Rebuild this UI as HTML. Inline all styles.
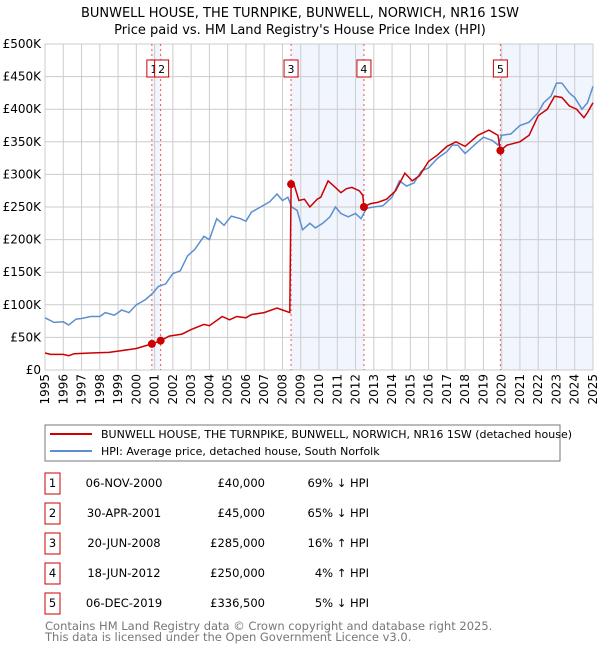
<!DOCTYPE html>
<html><head><meta charset="utf-8"><style>
body{margin:0;background:#fff;font-family:"DejaVu Sans","Liberation Sans",sans-serif;}
svg{display:block}
</style></head><body>
<svg id="c" width="600" height="650" xmlns="http://www.w3.org/2000/svg" font-family="DejaVu Sans, Liberation Sans, sans-serif">
<text x="300" y="17" text-anchor="middle" font-size="13">BUNWELL HOUSE, THE TURNPIKE, BUNWELL, NORWICH, NR16 1SW</text>
<text x="300" y="34" text-anchor="middle" font-size="13">Price paid vs. HM Land Registry's House Price Index (HPI)</text>
<g id="plot"></g>
<rect x="45" y="425" width="515" height="36" fill="#fff" stroke="#777"/>
<line x1="50" y1="434" x2="92" y2="434" stroke="#cc0000" stroke-width="2"/>
<text x="101" y="438" font-size="11">BUNWELL HOUSE, THE TURNPIKE, BUNWELL, NORWICH, NR16 1SW (detached house)</text>
<line x1="50" y1="451" x2="92" y2="451" stroke="#5b8fd1" stroke-width="2"/>
<text x="101" y="455" font-size="11">HPI: Average price, detached house, South Norfolk</text>
<g id="table" font-size="11.5"></g>
<text x="45" y="630" font-size="11.5" fill="#777">Contains HM Land Registry data © Crown copyright and database right 2025.</text>
<text x="45" y="641" font-size="11.5" fill="#777">This data is licensed under the Open Government Licence v3.0.</text>
</svg>
<script>
const hpiYears=[1995,1995.5,1996,1996.3,1996.7,1997,1997.5,1998,1998.3,1998.8,1999.2,1999.6,2000,2000.5,2000.9,2001.2,2001.6,2002,2002.4,2002.8,2003.2,2003.7,2004,2004.4,2004.8,2005.2,2005.7,2006,2006.3,2006.8,2007.3,2007.7,2008,2008.3,2008.5,2008.8,2009.1,2009.5,2009.8,2010.2,2010.6,2010.9,2011.2,2011.6,2012,2012.3,2012.6,2013,2013.5,2014,2014.4,2014.8,2015.2,2015.6,2016,2016.5,2017,2017.3,2017.6,2018,2018.5,2019,2019.5,2019.8,2020,2020.5,2021,2021.5,2022,2022.3,2022.7,2023,2023.3,2023.7,2024,2024.4,2024.7,2025];
const hpiValues=[80,73,74,69,78,79,82,82,88,84,92,88,100,108,118,128,132,148,152,175,185,205,200,232,222,236,232,228,242,250,258,270,260,265,250,245,215,225,218,225,235,250,240,235,240,232,248,250,252,265,290,282,287,305,310,325,335,345,345,332,345,357,352,345,360,362,375,380,395,410,420,440,440,425,418,400,410,435];
const priceYears=[1995,1995.3,1996,1996.3,1996.6,1997.5,1998.5,1999,2000,2000.85,2001.33,2001.8,2002.5,2003,2003.7,2004,2004.7,2005.1,2005.5,2006,2006.3,2007,2007.7,2008,2008.4,2008.47,2008.6,2008.9,2009.2,2009.5,2009.9,2010.1,2010.5,2010.9,2011.2,2011.5,2011.8,2012.2,2012.4,2012.46,2012.8,2013.2,2013.7,2014.2,2014.7,2015.1,2015.5,2016,2016.5,2017,2017.5,2018,2018.7,2019.3,2019.8,2019.93,2020.3,2021,2021.5,2022,2022.5,2022.9,2023.3,2023.7,2024.1,2024.5,2024.7,2025];
const priceValues=[26,24,24,22,25,26,27,29,33,40,45,52,55,62,70,68,82,77,82,80,85,88,95,92,88,285,288,260,262,250,262,265,290,280,272,278,280,275,268,250,255,257,262,275,302,290,298,320,330,343,350,343,360,368,360,336.5,345,350,360,390,400,420,418,405,400,387,395,410];
const saleLabels=["1","2","3","4","5"];
const saleYears=[2000.85,2001.33,2008.47,2012.46,2019.93];
const saleValues=[40,45,285,250,336.5];
const saleDates=["06-NOV-2000","30-APR-2001","20-JUN-2008","18-JUN-2012","06-DEC-2019"];
const salePrices=["£40,000","£45,000","£285,000","£250,000","£336,500"];
const saleHpi=["69% ↓ HPI","65% ↓ HPI","16% ↑ HPI","4% ↑ HPI","5% ↓ HPI"];
const yTicks=[0,50,100,150,200,250,300,350,400,450,500];
const yTickLabels=["£0","£50K","£100K","£150K","£200K","£250K","£300K","£350K","£400K","£450K","£500K"];
const xTicks=[1995,1996,1997,1998,1999,2000,2001,2002,2003,2004,2005,2006,2007,2008,2009,2010,2011,2012,2013,2014,2015,2016,2017,2018,2019,2020,2021,2022,2023,2024,2025];

const X0=45,X1=593,Y0=370,Y1=44;
const xs=y=>X0+(y-1995)/30*(X1-X0);
const ys=v=>Y0-v/500*(Y0-Y1);
const NS="http://www.w3.org/2000/svg";
const plot=document.getElementById('plot');
function mk(tag,attrs,parent){const e=document.createElementNS(NS,tag);for(const k in attrs)e.setAttribute(k,attrs[k]);(parent||plot).appendChild(e);return e;}
let e;
e=mk('rect',{x:X0,y:Y1,width:X1-X0,height:Y0-Y1,fill:'#fff'});


const spans=[[0,1],[2,3],[4,null]];
spans.forEach((s,i)=>{const a=xs(saleYears[s[0]]);const b=s[1]===null?X1:xs(saleYears[s[1]]);
e=mk('rect',{x:a,y:Y1,width:b-a,height:Y0-Y1,fill:'#eef3fc',opacity:0.8});

});
yTicks.forEach((t,i)=>{
e=mk('line',{x1:X0,x2:X1,y1:ys(t),y2:ys(t),stroke:'#ccc','stroke-width':1});


e=mk('text',{x:X0-4,y:ys(t)+4,'text-anchor':'end','font-size':12});
e.textContent=yTickLabels[i];

});
xTicks.forEach(t=>{
e=mk('line',{x1:xs(t),x2:xs(t),y1:Y1,y2:Y0,stroke:'#ccc','stroke-width':1});


e=mk('text',{x:0,y:0,'text-anchor':'end','font-size':12,transform:`translate(${xs(t)+4},${Y0+4}) rotate(-90)`});
e.textContent=t;

});
e=mk('rect',{x:X0,y:Y1,width:X1-X0,height:Y0-Y1,fill:'none',stroke:'#ccc'});


saleYears.forEach((y,i)=>{
e=mk('line',{x1:xs(y),x2:xs(y),y1:Y1,y2:Y0,stroke:'#e55','stroke-width':1,'stroke-dasharray':'2,3'});

});
function path(xa,va){return xa.map((x,i)=>(i?'L':'M')+xs(x).toFixed(1)+','+ys(va[i]).toFixed(1)).join('');}
e=mk('path',{d:path(hpiYears,hpiValues),fill:'none',stroke:'#5b8fd1','stroke-width':1.5});


e=mk('path',{d:path(priceYears,priceValues),fill:'none',stroke:'#cc0000','stroke-width':1.5});


saleYears.forEach((y,i)=>{
e=mk('circle',{cx:xs(y),cy:ys(saleValues[i]),r:4,fill:'#cc0000'});


e=mk('rect',{x:i===0?xs(y)-5:xs(y)-7+(i===1?1:0),y:60,width:14,height:17,fill:'#fff',stroke:'#cc0000'});


e=mk('text',{x:(i===0?xs(y)+2:xs(y)+(i===1?1:0)),y:73,'text-anchor':'middle','font-size':11});
e.textContent=saleLabels[i];

});
const tbl=document.getElementById('table');
const rowY=[483,513,543,573,603];
saleLabels.forEach((l,i)=>{const cy=rowY[i];
e=mk('rect',{x:45,y:cy-10,width:15,height:21,fill:'#fff',stroke:'#cc0000'},tbl);


e=mk('text',{x:52.5,y:cy+4,'text-anchor':'middle'},tbl);e.textContent=l;


e=mk('text',{x:124,y:cy+4,'text-anchor':'middle'},tbl);e.textContent=saleDates[i];


e=mk('text',{x:265,y:cy+4,'text-anchor':'end'},tbl);e.textContent=salePrices[i];


e=mk('text',{x:369,y:cy+4,'text-anchor':'end'},tbl);e.textContent=saleHpi[i];

});
</script>
</body></html>
